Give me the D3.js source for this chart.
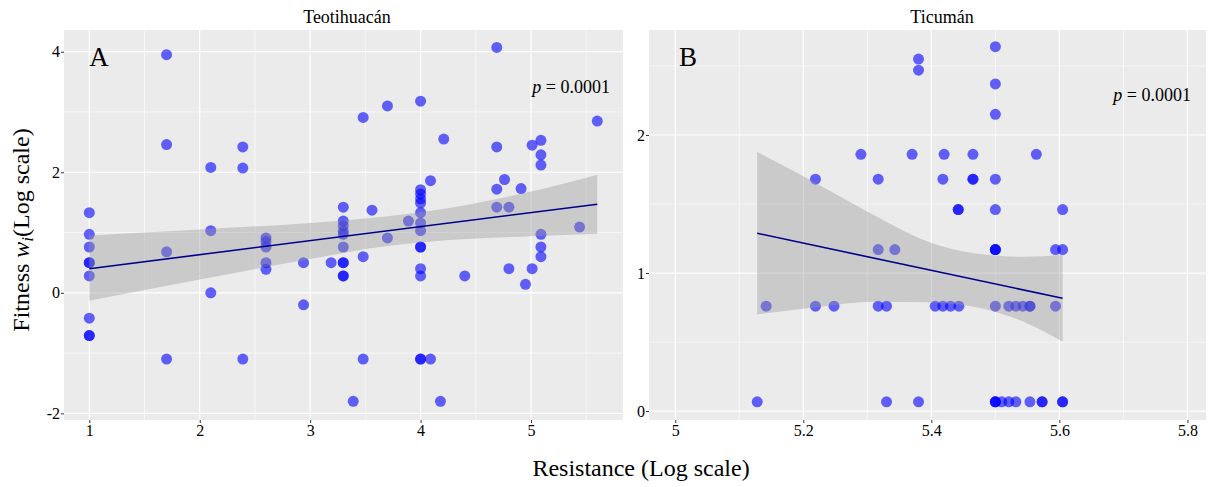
<!DOCTYPE html>
<html>
<head>
<meta charset="utf-8">
<script src="https://cdn.jsdelivr.net/npm/d3@7"></script>
<style>
  body { margin: 0; background: #fff; }
  svg { display: block; font-family: "Liberation Serif", "Times New Roman", serif; }
  svg text { font-family: "Liberation Serif", "Times New Roman", serif; }
</style>
</head>
<body>
<div id="chart"></div>
<script>
// Teotihuacán: resistance vs fitness (log scale)
const teoResistance = [
  1, 1, 1, 1, 1, 1, 1, 1, 1,
  1.7, 1.7, 1.7, 1.7,
  2.1, 2.1, 2.1,
  2.39, 2.39, 2.39,
  2.6, 2.6, 2.6, 2.6, 2.6,
  2.94, 2.94,
  3.19,
  3.3, 3.3, 3.3, 3.3, 3.3, 3.3, 3.3, 3.3, 3.3, 3.3,
  3.39,
  3.48, 3.48, 3.48,
  3.56,
  3.7, 3.7,
  3.89,
  4, 4, 4, 4, 4, 4, 4, 4, 4, 4, 4, 4, 4, 4,
  4.09, 4.09,
  4.18,
  4.21,
  4.4,
  4.69, 4.69, 4.69, 4.69,
  4.76,
  4.8, 4.8,
  4.91,
  4.95,
  5.01, 5.01,
  5.09, 5.09, 5.09, 5.09, 5.09, 5.09,
  5.44,
  5.6
];
const teoFitness = [
  1.33, 0.97, 0.76, 0.5, 0.5, 0.28, -0.42, -0.71, -0.71,
  3.95, 2.46, 0.68, -1.1,
  2.08, 1.03, 0.0,
  2.42, 2.07, -1.1,
  0.91, 0.85, 0.76, 0.5, 0.39,
  0.5, -0.2,
  0.5,
  1.42, 1.19, 1.11, 1.02, 0.97, 0.76, 0.5, 0.5, 0.28, 0.28,
  -1.8,
  2.91, 0.6, -1.1,
  1.37,
  3.1, 0.91,
  1.19,
  3.18, 1.71, 1.64, 1.56, 1.49, 1.33, 1.16, 1.03, 0.76, 0.76, 0.4, 0.28, -1.1, -1.1,
  1.86, -1.1,
  -1.8,
  2.55,
  0.28,
  4.07, 2.42, 1.72, 1.42,
  1.88,
  1.42, 0.4,
  1.73,
  0.14,
  2.45, 0.4,
  2.53, 2.29, 2.12, 0.97, 0.76, 0.6,
  1.09,
  2.85
];

// Ticumán
const ticResistance = [
  5.5, 5.38, 5.38, 5.5, 5.5,
  5.29, 5.37, 5.42, 5.465, 5.564,
  5.219, 5.317, 5.418, 5.465, 5.465, 5.5,
  5.442, 5.442, 5.5, 5.605,
  5.317, 5.343, 5.5, 5.5, 5.5, 5.594, 5.605,
  5.142, 5.219, 5.248, 5.317, 5.33, 5.406, 5.418, 5.43, 5.443, 5.5, 5.521, 5.532, 5.543, 5.554, 5.554, 5.594,
  5.128, 5.33, 5.38, 5.5, 5.5, 5.5, 5.51, 5.521, 5.532, 5.554, 5.573, 5.573, 5.605, 5.605
];
const ticFitness = [
  2.64, 2.55, 2.47, 2.37, 2.15,
  1.86, 1.86, 1.86, 1.86, 1.86,
  1.68, 1.68, 1.68, 1.68, 1.68, 1.68,
  1.46, 1.46, 1.46, 1.46,
  1.17, 1.17, 1.17, 1.17, 1.17, 1.17, 1.17,
  0.76, 0.76, 0.76, 0.76, 0.76, 0.76, 0.76, 0.76, 0.76, 0.76, 0.76, 0.76, 0.76, 0.76, 0.76, 0.76,
  0.067, 0.067, 0.067, 0.067, 0.067, 0.067, 0.067, 0.067, 0.067, 0.067, 0.067, 0.067, 0.067, 0.067
];

// fitted lines and confidence bands
const teoFitX = [1, 5.6];
const teoFitY = [0.40, 1.47];
const teoBandX = [1, 2, 3, 3.6, 4.3, 5, 5.6];
const teoBandLo = [-0.13, 0.22, 0.56, 0.75, 0.88, 0.94, 0.98];
const teoBandHi = [0.95, 1.05, 1.16, 1.25, 1.42, 1.68, 1.96];

const ticFitX = [5.128, 5.605];
const ticFitY = [1.288, 0.817];
const ticBandX = [5.128, 5.206, 5.31, 5.388, 5.466, 5.544, 5.605];
const ticBandLo = [0.70, 0.744, 0.792, 0.788, 0.756, 0.647, 0.502];
const ticBandHi = [1.877, 1.686, 1.42, 1.239, 1.143, 1.118, 1.13];

// ticks
const teoXTicks = [1, 2, 3, 4, 5];
const teoXMinor = [1.5, 2.5, 3.5, 4.5, 5.5];
const teoYTicks = [-2, 0, 2, 4];
const teoYMinor = [-1, 1, 3];
const ticXTicks = [5, 5.2, 5.4, 5.6, 5.8];
const ticXMinor = [5.1, 5.3, 5.5, 5.7];
const ticYTicks = [0, 1, 2];
const ticYMinor = [0.5, 1.5, 2.5];

const width = 1212, height = 487;
const svg = d3.select("#chart").append("svg")
  .attr("width", width)
  .attr("height", height);

function drawPanel(p) {
  const x = d3.scaleLinear().domain(p.xDomain).range([p.left, p.right]);
  const y = d3.scaleLinear().domain(p.yDomain).range([p.bottom, p.top]);
  const g = svg.append("g");

  g.append("rect")
    .attr("x", p.left).attr("y", p.top)
    .attr("width", p.right - p.left).attr("height", p.bottom - p.top)
    .attr("fill", "#EBEBEB");

  // minor grid
  g.selectAll(".vminor").data(p.xMinor).join("line")
    .attr("x1", d => x(d)).attr("x2", d => x(d))
    .attr("y1", p.top).attr("y2", p.bottom)
    .attr("stroke", "#fff").attr("stroke-width", 0.6);
  g.selectAll(".hminor").data(p.yMinor).join("line")
    .attr("y1", d => y(d)).attr("y2", d => y(d))
    .attr("x1", p.left).attr("x2", p.right)
    .attr("stroke", "#fff").attr("stroke-width", 0.6);
  // major grid
  g.selectAll(".vmajor").data(p.xTicks).join("line")
    .attr("x1", d => x(d)).attr("x2", d => x(d))
    .attr("y1", p.top).attr("y2", p.bottom)
    .attr("stroke", "#fff").attr("stroke-width", 1.2);
  g.selectAll(".hmajor").data(p.yTicks).join("line")
    .attr("y1", d => y(d)).attr("y2", d => y(d))
    .attr("x1", p.left).attr("x2", p.right)
    .attr("stroke", "#fff").attr("stroke-width", 1.2);

  // points
  g.selectAll(".pt").data(d3.zip(p.px, p.py)).join("circle")
    .attr("cx", d => x(d[0]))
    .attr("cy", d => y(d[1]))
    .attr("r", 5.5)
    .attr("fill", "#0000FF")
    .attr("fill-opacity", 0.6);

  // confidence band (drawn over the points, like geom_smooth)
  const band = d3.zip(p.bandX, p.bandLo, p.bandHi);
  g.append("path")
    .datum(band)
    .attr("d", d3.area()
      .x(d => x(d[0]))
      .y0(d => y(d[1]))
      .y1(d => y(d[2]))
      .curve(d3.curveMonotoneX))
    .attr("fill", "#999999")
    .attr("fill-opacity", 0.4);

  g.append("path")
    .datum(d3.zip(p.fitX, p.fitY))
    .attr("d", d3.line().x(d => x(d[0])).y(d => y(d[1])))
    .attr("fill", "none")
    .attr("stroke", "#00008B")
    .attr("stroke-width", 1.6);

  // axes (plain hyphen for negatives, as in the original)
  const fmt = d => String(d);
  const ax = g.append("g")
    .attr("transform", `translate(0,${p.bottom})`)
    .call(d3.axisBottom(x).tickValues(p.xTicks).tickSize(3).tickPadding(2).tickFormat(fmt));
  const ay = g.append("g")
    .attr("transform", `translate(${p.left},0)`)
    .call(d3.axisLeft(y).tickValues(p.yTicks).tickSize(3).tickPadding(1).tickFormat(fmt));
  [ax, ay].forEach(a => {
    a.attr("font-family", null).attr("font-size", null);
    a.select(".domain").remove();
    a.selectAll(".tick line").attr("stroke", "#333");
    a.selectAll(".tick text")
      .attr("fill", "#000")
      .style("font-family", "'Liberation Serif', serif")
      .style("font-size", "16px");
  });

  // strip title
  svg.append("text")
    .attr("x", p.titleX).attr("y", 23)
    .attr("text-anchor", "middle")
    .attr("font-size", 18)
    .text(p.title);

  // panel letter
  svg.append("text")
    .attr("x", x(p.letterAt)).attr("y", 66)
    .attr("font-size", 27)
    .text(p.letter);

  // p-value
  const pt = svg.append("text")
    .attr("x", p.right - p.pRight).attr("y", p.pY)
    .attr("text-anchor", "end")
    .attr("font-size", 18);
  pt.append("tspan").attr("font-style", "italic").text("p");
  pt.append("tspan").text(" = 0.0001");
}

drawPanel({
  left: 64, right: 623, top: 30, bottom: 420,
  xDomain: [0.771, 5.833], yDomain: [-2.11, 4.36],
  xTicks: teoXTicks, xMinor: teoXMinor, yTicks: teoYTicks, yMinor: teoYMinor,
  px: teoResistance, py: teoFitness,
  fitX: teoFitX, fitY: teoFitY,
  bandX: teoBandX, bandLo: teoBandLo, bandHi: teoBandHi,
  title: "Teotihuacán", titleX: 347,
  letter: "A", letterAt: 1,
  pRight: 13, pY: 93
});

drawPanel({
  left: 649, right: 1206, top: 30, bottom: 420,
  xDomain: [4.959, 5.829], yDomain: [-0.065, 2.761],
  xTicks: ticXTicks, xMinor: ticXMinor, yTicks: ticYTicks, yMinor: ticYMinor,
  px: ticResistance, py: ticFitness,
  fitX: ticFitX, fitY: ticFitY,
  bandX: ticBandX, bandLo: ticBandLo, bandHi: ticBandHi,
  title: "Ticumán", titleX: 942,
  letter: "B", letterAt: 5.006,
  pRight: 15, pY: 101
});

// axis titles
svg.append("text")
  .attr("x", 641).attr("y", 476)
  .attr("text-anchor", "middle")
  .attr("font-size", 24)
  .text("Resistance (Log scale)");

const yt = svg.append("text")
  .attr("transform", "translate(29,230) rotate(-90)")
  .attr("text-anchor", "middle")
  .attr("font-size", 24);
yt.append("tspan").text("Fitness ");
yt.append("tspan").attr("font-style", "italic").text("w");
yt.append("tspan").attr("font-style", "italic").attr("font-size", 17).attr("dy", 4).text("i");
yt.append("tspan").attr("dy", -4).text("(Log scale)");
</script>
</body>
</html>
